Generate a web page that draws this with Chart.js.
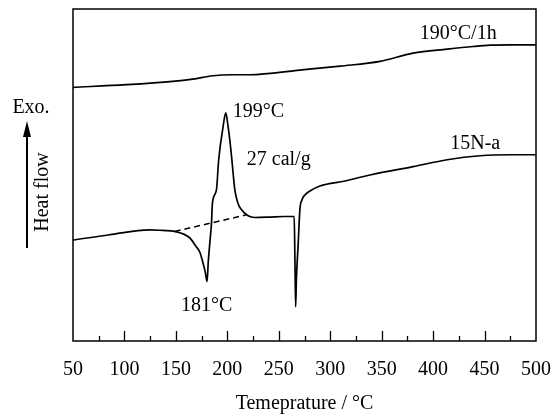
<!DOCTYPE html>
<html>
<head>
<meta charset="utf-8">
<script src="https://cdn.jsdelivr.net/npm/chart.js@4"></script>
<style>
  html, body { margin: 0; padding: 0; background: #fff; }
  #wrap { width: 556px; height: 420px; }
</style>
</head>
<body>
<div id="wrap"><canvas id="dsc"></canvas></div>
<script>
// temperature (°C) and heat flow (arbitrary units, 0..100 across the frame)
const upperTemp = [50, 101.8, 146.9, 166.4, 185.8, 205.3, 221.9, 270.6, 309.5, 348.4, 380.5, 413.7, 438.9, 455.5, 475, 500];
const upperFlow = [76.4, 77.2, 78.2, 78.9, 79.9, 80.2, 80.2, 81.6, 82.8, 84.2, 86.7, 87.9, 88.7, 89.1, 89.2, 89.2];

const lowerTemp = [50, 85.5, 124.5, 137.1, 148.8, 163.4, 169.3, 173.2, 176.1, 178.5, 180.3, 181.5, 183.4, 184.6, 185.5,
  189.4, 191.6, 195.7, 198.5, 200.5, 202.4, 204.4, 207.3, 210.2, 213.8, 220.2, 226.7, 240, 255, 265.0,
  265.7, 266.4, 267.1, 268.9, 270.5, 272.5, 275.4, 280.3, 290, 314.4, 338.7, 380.5, 413.7, 445.8, 475, 500];
const lowerFlow = [30.4, 32.0, 33.5, 33.3, 33.0, 31.1, 28.6, 26.8, 23.8, 20.8, 17.9, 24.0, 31.0, 35.5, 41.5,
  45.5, 54.6, 64.2, 68.7, 65.1, 60.6, 54.6, 45.5, 41.6, 39.5, 37.7, 37.2, 37.3, 37.5, 37.5,
  24.4, 10.3, 18.4, 29.5, 39.5, 42.5, 44.0, 45.2, 46.7, 48.2, 50.0, 52.5, 54.6, 55.8, 56.1, 56.1];

// dashed baseline under the exotherm
const baseTemp = [148.8, 218.6];
const baseFlow = [33.0, 38.0];

const tickTemps = [50, 100, 150, 200, 250, 300, 350, 400, 450, 500];
const minorTemps = [75, 125, 175, 225, 275, 325, 375, 425, 475];

// text labels: [text, temp, flow, align]
const notes = [
  ['190°C/1h', 424.4, 92.6, 'center'],
  ['199°C', 205.3, 69.0, 'left'],
  ['27 cal/g', 218.9, 54.6, 'left'],
  ['181°C', 180.0, 10.6, 'center'],
  ['15N-a', 440.9, 59.4, 'center']
];

const serif = '"Liberation Serif", "Times New Roman", serif';

function pts(xs, ys) {
  return xs.map((x, i) => ({ x: x, y: ys[i] }));
}

const framePlugin = {
  id: 'frame',
  afterDatasetsDraw(chart) {
    const { ctx, chartArea: a, scales: { x, y } } = chart;
    ctx.save();
    ctx.strokeStyle = '#000';
    ctx.lineWidth = 1.5;
    ctx.strokeRect(a.left, a.top, a.right - a.left, a.bottom - a.top);

    // inward ticks on the bottom edge
    ctx.lineWidth = 1.3;
    ctx.beginPath();
    tickTemps.forEach(t => {
      if (t === x.min || t === x.max) return;
      const px = Math.round(x.getPixelForValue(t)) + 0.5;
      ctx.moveTo(px, a.bottom);
      ctx.lineTo(px, a.bottom - 10);
    });
    minorTemps.forEach(t => {
      const px = Math.round(x.getPixelForValue(t)) + 0.5;
      ctx.moveTo(px, a.bottom);
      ctx.lineTo(px, a.bottom - 5);
    });
    ctx.stroke();

    // annotations
    ctx.fillStyle = '#000';
    ctx.font = '20px ' + serif;
    ctx.textBaseline = 'middle';
    notes.forEach(n => {
      ctx.textAlign = n[3];
      ctx.fillText(n[0], x.getPixelForValue(n[1]), y.getPixelForValue(n[2]));
    });

    // Exo. / heat flow arrow on the left
    ctx.textAlign = 'center';
    ctx.fillText('Exo.', 31, 108);
    ctx.lineWidth = 2;
    ctx.beginPath();
    ctx.moveTo(27, 248);
    ctx.lineTo(27, 134);
    ctx.stroke();
    ctx.beginPath();
    ctx.moveTo(27, 121);
    ctx.lineTo(31, 137);
    ctx.lineTo(23, 137);
    ctx.closePath();
    ctx.fill();
    ctx.translate(43, 192);
    ctx.rotate(-Math.PI / 2);
    ctx.fillText('Heat flow', 0, 0);
    ctx.restore();
  }
};

new Chart(document.getElementById('dsc'), {
  type: 'line',
  data: {
    datasets: [
      {
        data: pts(upperTemp, upperFlow),
        borderColor: '#000',
        borderWidth: 1.7,
        pointRadius: 0,
        cubicInterpolationMode: 'monotone'
      },
      {
        data: pts(lowerTemp, lowerFlow),
        borderColor: '#000',
        borderWidth: 1.7,
        pointRadius: 0,
        cubicInterpolationMode: 'monotone'
      },
      {
        data: pts(baseTemp, baseFlow),
        borderColor: '#000',
        borderWidth: 1.5,
        borderDash: [6, 4],
        pointRadius: 0
      }
    ]
  },
  options: {
    responsive: true,
    maintainAspectRatio: false,
    animation: false,
    layout: { padding: { left: 73, top: 9, right: 20, bottom: 0 } },
    plugins: { legend: { display: false }, tooltip: { enabled: false } },
    scales: {
      x: {
        type: 'linear',
        min: 50,
        max: 500,
        afterBuildTicks: s => { s.ticks = tickTemps.map(v => ({ value: v })); },
        afterFit: s => { s.height = 79; s.paddingLeft = 0; s.paddingRight = 0; },
        grid: { drawOnChartArea: false, drawTicks: false },
        border: { display: false },
        ticks: {
          autoSkip: false,
          maxRotation: 0,
          padding: 17,
          color: '#000',
          font: { family: serif, size: 20 }
        },
        title: {
          display: true,
          text: 'Temeprature / °C',
          color: '#000',
          font: { family: serif, size: 20 },
          padding: { top: 0, bottom: 4 }
        }
      },
      y: { display: false, min: 0, max: 100 }
    }
  },
  plugins: [framePlugin]
});
</script>
</body>
</html>
